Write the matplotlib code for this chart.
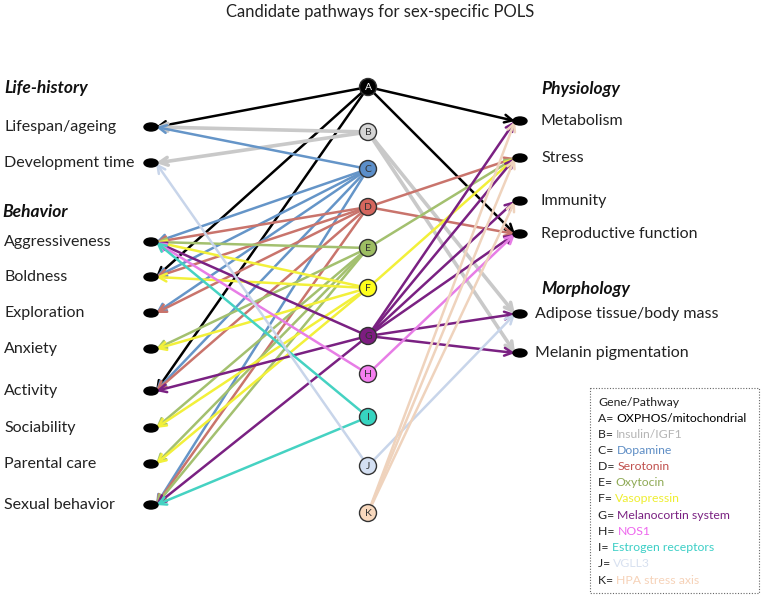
import matplotlib.pyplot as plt
from matplotlib.patches import Circle, Ellipse, Rectangle

plt.rcParams['font.family'] = ['Lato', 'DejaVu Sans']

# Genes / pathways (centre column)
pathways = ['A', 'B', 'C', 'D', 'E', 'F', 'G', 'H', 'I', 'J', 'K']
pathway_names = ['OXPHOS/mitochondrial', 'Insulin/IGF1', 'Dopamine', 'Serotonin',
                 'Oxytocin', 'Vasopressin', 'Melanocortin system', 'NOS1',
                 'Estrogen receptors', 'VGLL3', 'HPA stress axis']
node_colors = ['#000000', '#d6d6d6', '#5b8ec9', '#d5665d', '#9dbd62', '#ffff1a',
               '#7d1c80', '#f47ff0', '#36d4c0', '#d4e0f3', '#f8d8bd']
line_colors = ['#000000', '#c9c9c9', '#6595c8', '#c9746c', '#a3c06f', '#f2f03a',
               '#7a2182', '#e77de6', '#45d2c2', '#c8d5ea', '#efd3bd']
legend_colors = ['#000000', '#b5b5b5', '#5f8ec5', '#c0504d', '#8faa55', '#eeee30',
                 '#7a2182', '#ee66ee', '#3ccfc6', '#d8e1f0', '#f6d2b8']

# Traits
life_history = ['Lifespan/ageing', 'Development time']
behavior = ['Aggressiveness', 'Boldness', 'Exploration', 'Anxiety', 'Activity',
            'Sociability', 'Parental care', 'Sexual behavior']
physiology = ['Metabolism', 'Stress', 'Immunity', 'Reproductive function']
morphology = ['Adipose tissue/body mass', 'Melanin pigmentation']

# Links from each pathway to traits
links = {
    'A': ['Lifespan/ageing', 'Boldness', 'Activity', 'Metabolism', 'Reproductive function'],
    'B': ['Lifespan/ageing', 'Development time', 'Adipose tissue/body mass', 'Melanin pigmentation'],
    'C': ['Lifespan/ageing', 'Aggressiveness', 'Boldness', 'Exploration', 'Activity', 'Sexual behavior'],
    'D': ['Aggressiveness', 'Boldness', 'Exploration', 'Activity', 'Sexual behavior',
          'Stress', 'Reproductive function'],
    'E': ['Aggressiveness', 'Anxiety', 'Sociability', 'Parental care', 'Sexual behavior', 'Stress'],
    'F': ['Aggressiveness', 'Boldness', 'Anxiety', 'Sociability', 'Parental care', 'Stress'],
    'G': ['Aggressiveness', 'Activity', 'Sexual behavior', 'Metabolism', 'Stress', 'Immunity',
          'Reproductive function', 'Adipose tissue/body mass', 'Melanin pigmentation'],
    'H': ['Aggressiveness', 'Reproductive function'],
    'I': ['Aggressiveness', 'Sexual behavior'],
    'J': ['Development time', 'Adipose tissue/body mass'],
    'K': ['Metabolism', 'Stress', 'Immunity'],
}

# Layout (pixel space)
node_x = 368
node_y = [87, 132, 169, 207, 248, 288, 336, 374, 417, 466, 513]
left_x = 151
left_y = [127, 163, 242, 277, 313, 349, 391, 428, 464, 505]
right_x = 520
right_y = [121, 158, 201, 234, 314, 353]

left_traits = life_history + behavior
right_traits = physiology + morphology
pos = {}
for t, y in zip(left_traits, left_y):
    pos[t] = (left_x, y)
for t, y in zip(right_traits, right_y):
    pos[t] = (right_x, y)

fig = plt.figure(figsize=(7.61, 5.95), dpi=100)
ax = fig.add_axes([0, 0, 1, 1])
ax.set_xlim(0, 761)
ax.set_ylim(595, 0)
ax.axis('off')

ax.text(380, 12, 'Candidate pathways for sex-specific POLS', ha='center', va='center',
        fontsize=12, color='#222222')

# arrows
for i, p in enumerate(pathways):
    lw = 2.6 if p == 'B' else 1.8
    for t in links[p]:
        tx, ty = pos[t]
        tx = tx + 5 if tx < node_x else tx - 5
        ax.annotate('', xy=(tx, ty), xytext=(node_x, node_y[i]),
                    arrowprops=dict(arrowstyle='->', color=line_colors[i], lw=lw,
                                    mutation_scale=14, shrinkA=0, shrinkB=0),
                    zorder=2)

# pathway nodes
for i, p in enumerate(pathways):
    ax.add_patch(Circle((node_x, node_y[i]), 8.5, facecolor=node_colors[i],
                        edgecolor='#333333', lw=1.0, zorder=4))
    ax.text(node_x, node_y[i] + 0.5, p, ha='center', va='center', fontsize=7.5,
            color='white' if p == 'A' else '#333333', zorder=5)

# trait dots and labels
for t in left_traits:
    x, y = pos[t]
    ax.add_patch(Ellipse((x, y), 14, 8, color='black', zorder=3))
    ax.text(4, y, t, ha='left', va='center', fontsize=11.5, color='#222222')
for t in right_traits:
    x, y = pos[t]
    ax.add_patch(Ellipse((x, y), 14, 8, color='black', zorder=3))
    lx = 535 if t in morphology else 541
    ax.text(lx, y, t, ha='left', va='center', fontsize=11.5, color='#222222')

# group headings
for label, x, y in [('Life-history', 4, 88), ('Behavior', 2, 212),
                    ('Physiology', 541, 89), ('Morphology', 541, 289)]:
    ax.text(x, y, label, ha='left', va='center', fontsize=12.5, fontweight='bold',
            fontstyle='italic', color='#111111')

# legend box
ax.add_patch(Rectangle((590, 388), 169, 205, fill=False, edgecolor='#666666',
                       lw=0.8, linestyle=(0, (1, 1.5))))
ax.text(598, 402, 'Gene/Pathway', ha='left', va='center', fontsize=8.8, color='#222222')
for i, p in enumerate(pathways):
    y = 418 + i * 16.2
    t = ax.text(598, y, p + '= ', ha='left', va='center', fontsize=8.8, color='#222222')
    ax.annotate(pathway_names[i], xy=(1, 0.5), xycoords=t, ha='left', va='center',
                fontsize=8.8, color=legend_colors[i])

fig.savefig('out.png', dpi=100)
